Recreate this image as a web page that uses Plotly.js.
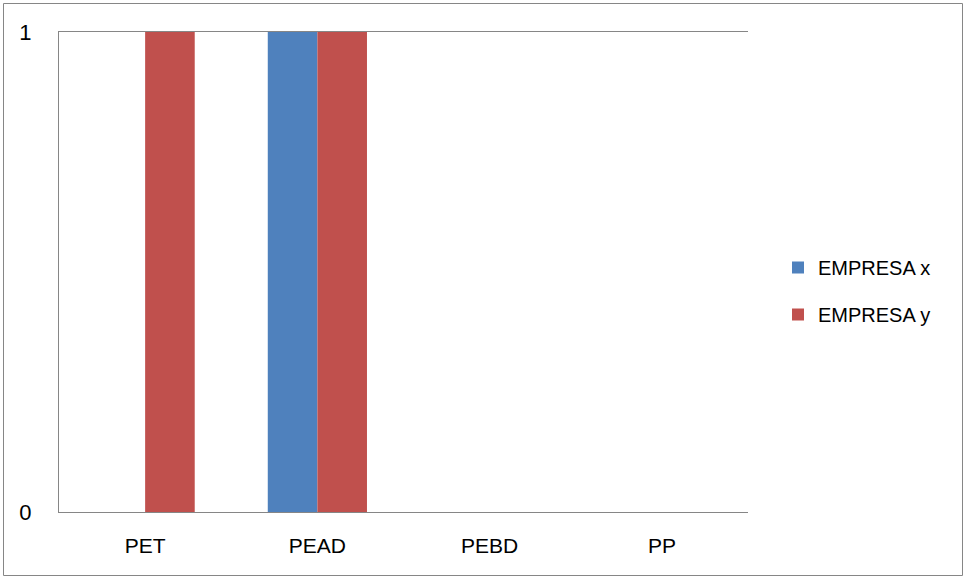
<!DOCTYPE html>
<html>
<head>
<meta charset="utf-8">
<script src="https://cdn.plot.ly/plotly-3.0.1.min.js"></script>
<style>
html,body{margin:0;padding:0;background:#fff;}
#chart{width:965px;height:577px;}
</style>
</head>
<body>
<div id="chart"></div>
<script>
var categories = ["PET", "PEAD", "PEBD", "PP"];
var empresaX = [0, 1, 0, 0];
var empresaY = [1, 1, 0, 0];
var seriesNames = ["EMPRESA x", "EMPRESA y"];
var yTicks = [0, 1];

var FONT = "Liberation Sans, Arial, sans-serif";
var W = 965, H = 577, L = 59, R = 217, T = 32, B = 65;
var pw = W - L - R, ph = H - T - B;
function px(x){ return (x - L) / pw; }
function py(y){ return (H - B - y) / ph; }

var traces = [
  {type:"bar", x:categories, y:empresaX, name:seriesNames[0], legendgroup:"a",
   marker:{color:"#4F81BD"}},
  {type:"bar", x:categories, y:empresaY, name:seriesNames[1], legendgroup:"b",
   marker:{color:"#C0504D"}}
];

var layout = {
  width: W, height: H,
  margin: {l:L, r:R, t:T, b:B, pad:0},
  paper_bgcolor:"#fff", plot_bgcolor:"#fff",
  barmode:"group", bargap:0.424, bargroupgap:0,
  font:{family:FONT, size:21, color:"#000"},
  xaxis:{
    type:"category", showgrid:false, zeroline:false,
    showline:true, mirror:true, linecolor:"#868686", linewidth:1,
    ticks:"", ticklabelstandoff:15, tickfont:{size:21}
  },
  yaxis:{
    range:[0,1], tickvals:yTicks, ticktext:yTicks.map(String),
    showgrid:true, gridcolor:"#868686", gridwidth:1,
    zeroline:false, showline:true, linecolor:"#868686", linewidth:1,
    ticks:"", ticklabelstandoff:22, tickfont:{size:22}
  },
  showlegend:true,
  legend:{x:px(778), y:py(291), xanchor:"left", yanchor:"middle",
          traceorder:"grouped", tracegroupgap:18, font:{size:20},
          bgcolor:"rgba(0,0,0,0)"},
  shapes:[
    {type:"rect", xref:"paper", yref:"paper",
     x0:px(3.5), x1:px(962.5), y0:py(575.5), y1:py(3.5),
     line:{color:"#868686", width:1}, fillcolor:"rgba(0,0,0,0)", layer:"below"}
  ]
};

Plotly.newPlot("chart", traces, layout, {displayModeBar:false, staticPlot:true});
</script>
</body>
</html>
